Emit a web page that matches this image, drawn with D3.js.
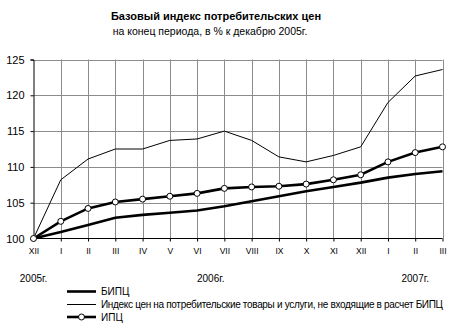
<!DOCTYPE html>
<html>
<head>
<meta charset="utf-8">
<script src="https://cdn.jsdelivr.net/npm/d3@7"></script>
<style>
  html, body { margin: 0; padding: 0; background: #fff; }
  svg { display: block; font-family: "Liberation Sans", Arial, sans-serif; }
</style>
</head>
<body>
<svg id="chart" width="465" height="333"></svg>
<script>
// Months from December 2005 to March 2007
const months = ["XII", "I", "II", "III", "IV", "V", "VI", "VII", "VIII", "IX", "X", "XI", "XII", "I", "II", "III"];
// Base consumer price index (БИПЦ), % to December 2005
const bipc = [100, 100.9, 101.9, 102.9, 103.3, 103.6, 103.9, 104.5, 105.2, 105.9, 106.6, 107.2, 107.8, 108.5, 109.0, 109.4];
// Prices of goods and services outside the base index
const excluded = [100, 108.2, 111.1, 112.5, 112.5, 113.7, 113.9, 115.0, 113.7, 111.4, 110.7, 111.6, 112.8, 119.0, 122.7, 123.6];
// Consumer price index (ИПЦ)
const ipc = [100, 102.4, 104.2, 105.1, 105.5, 105.9, 106.3, 107.0, 107.2, 107.3, 107.6, 108.2, 108.9, 110.7, 112.0, 112.8];
const yTicks = [100, 105, 110, 115, 120, 125];
// Year captions, anchored to the month index they sit under
const yearLabels = ["2005г.", "2006г.", "2007г."];
const yearAt = [0, 6.5, 14];

const seriesNames = ["БИПЦ", "Индекс цен на потребительские товары и услуги, не входящие в расчет БИПЦ", "ИПЦ"];

const svg = d3.select("#chart");
const grid = "#8c8c8c";

const x = d3.scaleLinear().domain([0, months.length - 1]).range([33.5, 442.5]);
const y = d3.scaleLinear().domain([100, 125]).range([238.5, 59.5]);

// Title
svg.append("text").attr("x", 216).attr("y", 20).attr("text-anchor", "middle")
  .attr("font-size", 11).attr("font-weight", "bold").text("Базовый индекс потребительских цен");
svg.append("text").attr("x", 210).attr("y", 35).attr("text-anchor", "middle")
  .attr("font-size", 10.5).text("на конец периода, в % к декабрю 2005г.");

// Gridlines
svg.append("g").selectAll("line.h").data(yTicks.filter(d => d > 100)).join("line")
  .attr("x1", x(0)).attr("x2", x(months.length - 1))
  .attr("y1", d => Math.round(y(d)) + 0.5).attr("y2", d => Math.round(y(d)) + 0.5)
  .attr("stroke", grid).attr("stroke-width", 1);
svg.append("g").selectAll("line.v").data(d3.range(1, months.length)).join("line")
  .attr("x1", d => Math.round(x(d)) + 0.5).attr("x2", d => Math.round(x(d)) + 0.5)
  .attr("y1", y(125)).attr("y2", y(100))
  .attr("stroke", grid).attr("stroke-width", 1);

// Y axis
const yAxis = d3.axisLeft(y).tickValues(yTicks).tickSize(3).tickPadding(6).tickFormat(d3.format("d"));
const gy = svg.append("g").attr("transform", `translate(${x(0)},0)`).call(yAxis);
gy.select(".domain").attr("stroke", "#000");
gy.selectAll(".tick line").attr("stroke", "#000");
gy.selectAll("text").attr("font-size", 11).attr("font-family", "Liberation Sans, Arial, sans-serif").attr("fill", "#000");

// X axis
const xAxis = d3.axisBottom(x).tickValues(d3.range(months.length)).tickFormat(i => months[i])
  .tickSize(3).tickPadding(6);
const gx = svg.append("g").attr("transform", `translate(0,${y(100)})`).call(xAxis);
gx.select(".domain").attr("stroke", "#000").attr("d", `M${x(0)},0H${x(months.length - 1)}`);
gx.selectAll(".tick line").attr("stroke", "#000");
gx.selectAll("text").attr("font-size", 8.5).attr("font-family", "Liberation Sans, Arial, sans-serif").attr("fill", "#000");

// Year captions
svg.append("g").selectAll("text").data(yearLabels).join("text")
  .attr("x", (d, i) => x(yearAt[i])).attr("y", 282).attr("text-anchor", "middle")
  .attr("font-size", 10).text(d => d);

// Series lines
const line = d3.line().x((d, i) => x(i)).y(d => y(d));
svg.append("path").datum(excluded).attr("d", line).attr("fill", "none").attr("stroke", "#000").attr("stroke-width", 1);
svg.append("path").datum(bipc).attr("d", line).attr("fill", "none").attr("stroke", "#000").attr("stroke-width", 2.6);
svg.append("path").datum(ipc).attr("d", line).attr("fill", "none").attr("stroke", "#000").attr("stroke-width", 2.6);
svg.append("g").selectAll("circle").data(ipc).join("circle")
  .attr("cx", (d, i) => x(i)).attr("cy", d => y(d)).attr("r", 3)
  .attr("fill", "#fff").attr("stroke", "#000").attr("stroke-width", 1);

// Legend
const legendY = [291.5, 304.5, 317];
const leg = svg.append("g");
const widths = [2.6, 1, 2.6];
seriesNames.forEach((name, i) => {
  leg.append("line").attr("x1", 67).attr("x2", 96).attr("y1", legendY[i]).attr("y2", legendY[i])
    .attr("stroke", "#000").attr("stroke-width", widths[i]);
  if (i === 2) {
    leg.append("circle").attr("cx", 81.5).attr("cy", legendY[i]).attr("r", 3)
      .attr("fill", "#fff").attr("stroke", "#000");
  }
  const t = leg.append("text").attr("x", 101).attr("y", legendY[i] + 3.5).attr("font-size", 10).text(name);
  if (i === 1) t.attr("textLength", 342).attr("lengthAdjust", "spacing");
});
</script>
</body>
</html>
